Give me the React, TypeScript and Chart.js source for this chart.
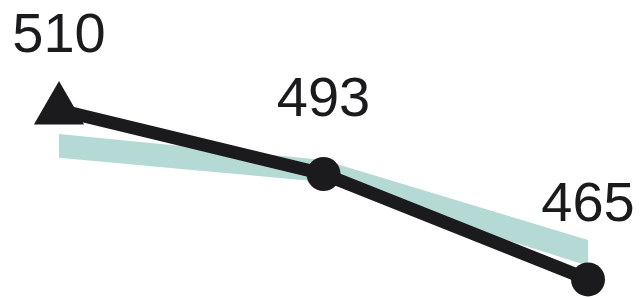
import React, { useEffect, useRef } from "react";
import { Chart, registerables } from "chart.js";

Chart.register(...registerables);

const categories = [0, 1, 2];
const seriesValues = [510, 493, 465];
const bandUpper = [503.6, 496.7, 475.5];
const bandLower = [497.3, 490.9, 468.6];
const pointStyles = ["triangle", "circle", "circle"];
const pointRadii = [29, 17, 17];

const labelPlugin = {
  id: "valueLabels",
  afterDatasetsDraw(chart: any) {
    const ctx = chart.ctx;
    const meta = chart.getDatasetMeta(0);
    ctx.save();
    ctx.font = '56px "Liberation Sans", Arial, sans-serif';
    ctx.fillStyle = "#1b1b1d";
    ctx.textAlign = "center";
    ctx.textBaseline = "alphabetic";
    meta.data.forEach((pt: any, i: number) => {
      ctx.fillText(String(seriesValues[i]), pt.x, pt.y - 58);
    });
    ctx.restore();
  },
};

export default function App() {
  const ref = useRef<HTMLCanvasElement | null>(null);
  useEffect(() => {
    document.body.style.margin = "0";
    const canvas = ref.current!;
    const chart = new Chart(canvas, {
      type: "line",
      data: {
        datasets: [
          {
            data: categories.map((c, i) => ({ x: c, y: seriesValues[i] })),
            borderColor: "#1b1b1d",
            backgroundColor: "#1b1b1d",
            borderWidth: 13,
            pointStyle: pointStyles as any,
            pointRadius: pointRadii,
            pointBorderWidth: 0,
            pointBackgroundColor: "#1b1b1d",
            fill: false,
            tension: 0,
            clip: false as any,
          },
          {
            data: categories.map((c, i) => ({ x: c, y: bandUpper[i] })),
            borderWidth: 0,
            borderColor: "rgba(0,0,0,0)",
            pointRadius: 0,
            fill: false,
            tension: 0,
          },
          {
            data: categories.map((c, i) => ({ x: c, y: bandLower[i] })),
            borderWidth: 0,
            borderColor: "rgba(0,0,0,0)",
            backgroundColor: "#b5d9d5",
            pointRadius: 0,
            fill: "-1",
            tension: 0,
          },
        ],
      },
      options: {
        animation: false,
        responsive: false,
        events: [],
        layout: { autoPadding: false, padding: { left: 59, right: 53, top: 0, bottom: 0 } },
        plugins: { legend: { display: false }, tooltip: { enabled: false } },
        scales: {
          x: { type: "linear", min: 0, max: 2, bounds: "data", display: false },
          y: { type: "linear", min: 460.06, max: 539.23, bounds: "data", display: false },
        },
      },
      plugins: [labelPlugin],
    });
    return () => chart.destroy();
  }, []);
  return (
    <div style={{ position: "fixed", left: 0, top: 0, width: 641, height: 298, background: "#fff" }}>
      <canvas ref={ref} width={641} height={298} />
    </div>
  );
}
